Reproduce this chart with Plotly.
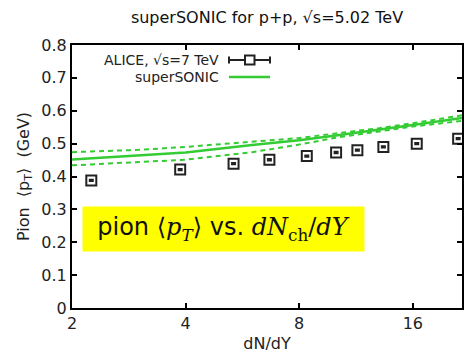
import plotly.graph_objects as go

# ALICE data
alice_dndy = [2.25, 3.87, 5.36, 6.67, 8.38, 10.02, 11.41, 13.37, 16.39, 21.1]
alice_pt = [0.388, 0.421, 0.439, 0.451, 0.462, 0.473, 0.480, 0.490, 0.500, 0.515]
alice_err = [0.002, 0.002, 0.002, 0.002, 0.002, 0.002, 0.002, 0.002, 0.002, 0.002]

# superSONIC curves
curve_dndy = [2.0, 3.0, 4.0, 6.0, 8.0, 10.0, 13.0, 16.0, 21.6]
curve_mid = [0.452, 0.463, 0.473, 0.496, 0.510, 0.525, 0.542, 0.557, 0.578]
curve_up = [0.474, 0.481, 0.490, 0.505, 0.517, 0.531, 0.547, 0.562, 0.586]
curve_lo = [0.434, 0.443, 0.451, 0.474, 0.497, 0.518, 0.536, 0.552, 0.569]

x_ticks = [2, 4, 8, 16]

GREEN = "#33cc33"
FONT = "DejaVu Sans"

fig = go.Figure()
fig.add_trace(go.Scatter(x=curve_dndy, y=curve_up, mode="lines",
                         line=dict(color=GREEN, width=2, dash="5px,4px"), showlegend=False))
fig.add_trace(go.Scatter(x=curve_dndy, y=curve_lo, mode="lines",
                         line=dict(color=GREEN, width=2, dash="5px,4px"), showlegend=False))
fig.add_trace(go.Scatter(x=curve_dndy, y=curve_mid, mode="lines",
                         line=dict(color=GREEN, width=2.5), showlegend=False))
fig.add_trace(go.Scatter(x=alice_dndy, y=alice_pt, mode="markers", cliponaxis=False,
                         marker=dict(symbol="square-open", size=10, color="#222222",
                                     line=dict(width=2, color="#222222")),
                         error_y=dict(type="data", array=alice_err, color="#222222",
                                      thickness=2, width=2.5),
                         showlegend=False))

W, H = 464, 354
L, R, T, B = 72, 462, 45, 308


def px(xp):
    return (xp - L) / (R - L)


def py(yp):
    return (B - yp) / (B - T)


shapes = []
# legend samples
shapes.append(dict(type="line", xref="paper", yref="paper", x0=px(229), x1=px(270), y0=py(60), y1=py(60),
                   line=dict(color="#222222", width=2)))
for xe in (229, 270):
    shapes.append(dict(type="line", xref="paper", yref="paper", x0=px(xe), x1=px(xe), y0=py(56.5), y1=py(63.5),
                       line=dict(color="#222222", width=2)))
shapes.append(dict(type="rect", xref="paper", yref="paper", x0=px(245), x1=px(254.5), y0=py(55.5), y1=py(64.5),
                   line=dict(color="#222222", width=2), fillcolor="white"))
shapes.append(dict(type="line", xref="paper", yref="paper", x0=px(229), x1=px(270), y0=py(77), y1=py(77),
                   line=dict(color=GREEN, width=2.5)))

annotations = [
    dict(text="ALICE, √s=7 TeV", xref="paper", yref="paper", x=px(221), y=py(60),
         xanchor="right", yanchor="middle", showarrow=False, font=dict(family=FONT, size=14, color="#222")),
    dict(text="superSONIC", xref="paper", yref="paper", x=px(221), y=py(77),
         xanchor="right", yanchor="middle", showarrow=False, font=dict(family=FONT, size=14, color="#222")),
    dict(text=("pion <span style='font-family:DejaVu Serif'>⟨<i>p</i><sub><i>T</i></sub>⟩</span> vs. "
               "<span style='font-family:DejaVu Serif'><i>dN</i><sub>ch</sub>/<i>dY</i></span>"),
         xref="paper", yref="paper", x=px(223.5), y=py(229), xanchor="center", yanchor="middle",
         showarrow=False, width=277, height=40, bgcolor="#ffff00", borderpad=2,
         font=dict(family=FONT, size=24, color="#111")),
]

fig.update_layout(
    width=W, height=H,
    margin=dict(l=L, r=W - R, t=T, b=H - B, autoexpand=False),
    paper_bgcolor="white", plot_bgcolor="white",
    title=dict(text="superSONIC for p+p, √s=5.02 TeV", x=(L + R) / 2 / W, xanchor="center",
               y=1 - 17 / H, yanchor="middle", font=dict(family=FONT, size=16, color="#111")),
    xaxis=dict(type="log", range=[0.30103, 1.3345], tickvals=x_ticks, ticktext=[str(v) for v in x_ticks],
               showline=True, linecolor="black", linewidth=2, mirror="ticks",
               ticks="inside", ticklen=5, tickwidth=1.5, tickcolor="black", showgrid=False, zeroline=False,
               tickfont=dict(family=FONT, size=16, color="#222"),
               title=dict(text="dN/dY", font=dict(family=FONT, size=16, color="#222"), standoff=6)),
    yaxis=dict(range=[0, 0.8], dtick=0.1, tick0=0,
               showline=True, linecolor="black", linewidth=2, mirror="ticks",
               ticks="inside", ticklen=5, tickwidth=1.5, tickcolor="black", showgrid=False, zeroline=False,
               tickfont=dict(family=FONT, size=16, color="#222"),
               title=dict(text="Pion  ⟨p<sub>T</sub>⟩  (GeV)", font=dict(family=FONT, size=16, color="#222"),
                          standoff=8)),
    shapes=shapes,
    annotations=annotations,
    showlegend=False,
)

fig.write_html("out.html", config={"displayModeBar": False},
               post_script="document.body.style.margin='0';document.body.style.overflow='hidden';")
